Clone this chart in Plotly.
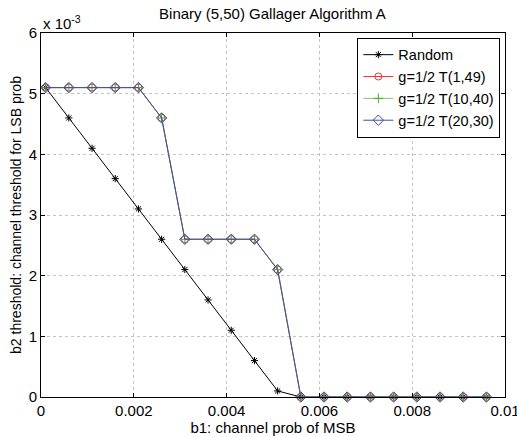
import plotly.graph_objects as go

x = [0.0001, 0.0006, 0.0011, 0.0016, 0.0021, 0.0026, 0.0031, 0.0036, 0.0041, 0.0046,
     0.0051, 0.0056, 0.0061, 0.0066, 0.0071, 0.0076, 0.0081, 0.0086, 0.0091, 0.0096]
random_y = [5.1, 4.6, 4.1, 3.6, 3.1, 2.6, 2.1, 1.6, 1.1, 0.6, 0.1, 0, 0, 0, 0, 0, 0, 0, 0, 0]
t1_49 = [5.1, 5.1, 5.1, 5.1, 5.1, 4.6, 2.6, 2.6, 2.6, 2.6, 2.1, 0, 0, 0, 0, 0, 0, 0, 0, 0]
t10_40 = [5.1, 5.1, 5.1, 5.1, 5.1, 4.6, 2.6, 2.6, 2.6, 2.6, 2.1, 0, 0, 0, 0, 0, 0, 0, 0, 0]
t20_30 = [5.1, 5.1, 5.1, 5.1, 5.1, 4.6, 2.6, 2.6, 2.6, 2.6, 2.1, 0, 0, 0, 0, 0, 0, 0, 0, 0]

font = "Liberation Sans, Arial, sans-serif"
FS = 15
fig = go.Figure()
fig.add_trace(go.Scatter(x=x, y=random_y, mode="lines+markers", name="Random", cliponaxis=False,
                         line=dict(color="black", width=1),
                         marker=dict(symbol="asterisk-open", size=6, color="black",
                                     line=dict(color="black", width=1))))
fig.add_trace(go.Scatter(x=x, y=t1_49, mode="lines+markers", name="g=1/2 T(1,49)", cliponaxis=False,
                         line=dict(color="#ff3030", width=1),
                         marker=dict(symbol="circle-open", size=7, color="#ff3030",
                                     line=dict(color="#ff3030", width=1))))
fig.add_trace(go.Scatter(x=x, y=t10_40, mode="lines+markers", name="g=1/2 T(10,40)", cliponaxis=False,
                         line=dict(color="#80c870", width=1),
                         marker=dict(symbol="cross-thin-open", size=7, color="#40b030",
                                     line=dict(color="#40b030", width=1))))
fig.add_trace(go.Scatter(x=x, y=t20_30, mode="lines+markers", name="g=1/2 T(20,30)", cliponaxis=False,
                         line=dict(color="#3850a0", width=1),
                         marker=dict(symbol="diamond-open", size=8, color="#3850a0",
                                     line=dict(color="#3850a0", width=1))))

axis_common = dict(showline=True, linecolor="black", linewidth=1, mirror="ticks",
                   ticks="inside", ticklen=4, tickcolor="black", automargin=False,
                   ticklabeloverflow="allow",
                   showgrid=True, gridcolor="#c4c4c4", griddash="dot", gridwidth=1,
                   zeroline=False, tickfont=dict(family=font, size=FS, color="black"))
fig.update_xaxes(range=[0, 0.01], tickvals=[0, 0.002, 0.004, 0.006, 0.008, 0.01],
                 ticktext=["0", "0.002", "0.004", "0.006", "0.008", "0.01"],
                 title=dict(text="b1: channel prob of MSB", standoff=0,
                            font=dict(family=font, size=FS, color="black")),
                 **axis_common)
fig.update_yaxes(range=[0, 6], tickvals=[0, 1, 2, 3, 4, 5, 6],
                 title=dict(text="b2 threshold: channel threshold for LSB prob", standoff=3,
                            font=dict(family=font, size=14, color="black")),
                 **axis_common)
fig.update_layout(
    width=517, height=437,
    margin=dict(l=41, r=12, t=33, b=40),
    paper_bgcolor="white", plot_bgcolor="white",
    title=dict(text="Binary (5,50) Gallager Algorithm A", x=0.527, xanchor="center",
               y=0.968, yanchor="middle", font=dict(family=font, size=FS, color="black")),
    legend=dict(x=0.99, y=0.987, xanchor="right", yanchor="top",
                bgcolor="white", bordercolor="black", borderwidth=1,
                font=dict(family=font, size=14.5, color="black"),
                tracegroupgap=0, itemwidth=30),
    showlegend=True,
    annotations=[dict(text="x 10<sup>-3</sup>", xref="paper", yref="paper", x=0, y=1,
                      xanchor="left", yanchor="bottom", showarrow=False, yshift=-1,
                      font=dict(family=font, size=FS, color="black"))],
)
fig.write_html("out.html")
